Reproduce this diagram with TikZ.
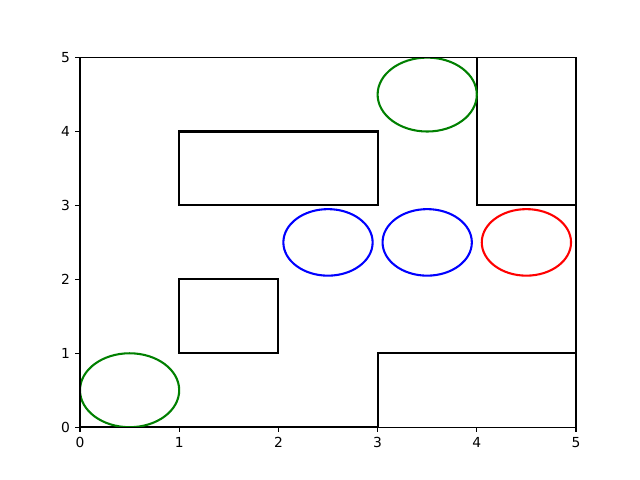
\documentclass[tikz,border=0pt]{standalone}
\usepackage{fontspec}
\setmainfont{DejaVu Sans}
\definecolor{mplgreen}{rgb}{0,0.5,0}
\tikzset{
  wall/.style={line width=1.5pt, black, line join=miter},
  obst/.style={line width=1.5pt, black},
  goalc/.style={line width=1.5pt},
  tickl/.style={font=\fontsize{10}{12}\selectfont, inner sep=0pt},
}
\begin{document}
\begin{tikzpicture}
\useasboundingbox[fill=white] (0,0) rectangle (16.256,12.192);
\begin{scope}[shift={(2.032,1.34112)}, x=2.51968cm, y=1.877568cm]
  \begin{scope}
    \clip (0,0) rectangle (5,5);
    \draw[wall] (0,0) -- (3,0) -- (3,1) -- (5,1) -- (5,3) -- (4,3) -- (4,5);
    \draw[obst] (1,3) rectangle (3,4);
    \draw[obst] (1,1) rectangle (2,2);
    \draw[goalc, mplgreen] (3.5,4.5) ellipse [x radius=0.5, y radius=0.5];
    \draw[goalc, mplgreen] (0.5,0.5) ellipse [x radius=0.5, y radius=0.5];
    \draw[goalc, blue] (2.5,2.5) ellipse [x radius=0.45, y radius=0.45];
    \draw[goalc, blue] (3.5,2.5) ellipse [x radius=0.45, y radius=0.45];
    \draw[goalc, red] (4.5,2.5) ellipse [x radius=0.45, y radius=0.45];
  \end{scope}
  \draw[line width=0.8pt, line join=miter] (0,0) rectangle (5,5);
  \foreach \i in {0,...,5} {
    \draw[line width=0.8pt] (\i,0) -- ++(0,-3.5pt) coordinate (xt\i);
    \node[tickl, anchor=north] (xl\i) at ([yshift=-3.5pt]xt\i) {\i};
    \draw[line width=0.8pt] (0,\i) -- ++(-3.5pt,0) coordinate (yt\i);
    \node[tickl, anchor=east] (yl\i) at ([xshift=-3.5pt]yt\i) {\i};
  }
\end{scope}
\end{tikzpicture}
\end{document}
